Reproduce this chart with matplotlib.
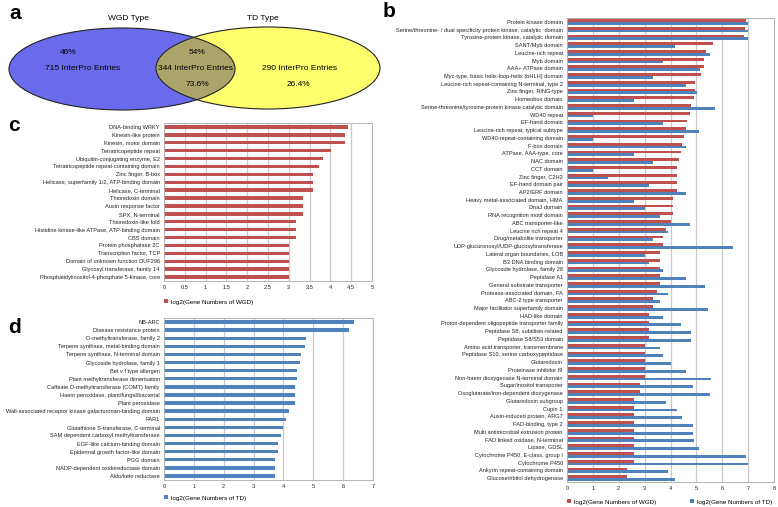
import matplotlib
matplotlib.use("Agg")
import matplotlib.pyplot as plt
from matplotlib.patches import Ellipse
import numpy as np

plt.rcParams['font.family'] = ['Liberation Sans', 'DejaVu Sans']

W, H = 778, 507
RED = '#c0504d'
BLUE = '#4f81bd'
GRID = '#c8c8c8'

# panel a: venn
venn_titles = ['WGD Type', 'TD Type']
venn_counts = [715, 344, 290]
venn_pct_top = ['46%', '54%', '']
venn_pct_bottom = ['', '73.6%', '26.4%']

# panel b: shared domains, log2 gene numbers
b_names = [
    'Protein kinase domain',
    'Serine/threonine- / dual specificity protein kinase, catalytic  domain',
    'Tyrosine-protein kinase, catalytic domain',
    'SANT/Myb domain',
    'Leucine-rich repeat',
    'Myb domain',
    'AAA+ ATPase domain',
    'Myc-type, basic helix-loop-helix (bHLH) domain',
    'Leucine-rich repeat-containing N-terminal, type 2',
    'Zinc finger, RING-type',
    'Homeobox domain',
    'Serine-threonine/tyrosine-protein kinase catalytic domain',
    'WD40 repeat',
    'EF-hand domain',
    'Leucine-rich repeat, typical subtype',
    'WD40-repeat-containing domain',
    'F-box domain',
    'ATPase, AAA-type, core',
    'NAC domain',
    'CCT domain',
    'Zinc finger, C2H2',
    'EF-hand domain pair',
    'AP2/ERF domain',
    'Heavy metal-associated domain, HMA',
    'DnaJ domain',
    'RNA recognition motif domain',
    'ABC transporter-like',
    'Leucine rich repeat 4',
    'Drug/metabolite transporter',
    'UDP-glucuronosyl/UDP-glucosyltransferase',
    'Lateral organ boundaries, LOB',
    'B3 DNA binding domain',
    'Glycoside hydrolase, family 28',
    'Peptidase A1',
    'General substrate transporter',
    'Protease-associated domain, PA',
    'ABC-2 type transporter',
    'Major facilitator superfamily domain',
    'HAD-like domain',
    'Proton-dependent oligopeptide transporter family',
    'Peptidase S8, subtilisin-related',
    'Peptidase S8/S53 domain',
    'Amino acid transporter, transmembrane',
    'Peptidase S10, serine carboxypeptidase',
    'Glutaredoxin',
    'Proteinase inhibitor I9',
    'Non-haem dioxygenase N-terminal domain',
    'Sugar/inositol transporter',
    'Oxoglutarate/iron-dependent dioxygenase',
    'Glutaredoxin subgroup',
    'Cupin 1',
    'Auxin-induced protein, ARG7',
    'FAD-binding, type 2',
    'Multi antimicrobial extrusion protein',
    'FAD linked oxidase, N-terminal',
    'Lipase, GDSL',
    'Cytochrome P450, E-class, group I',
    'Cytochrome P450',
    'Ankyrin repeat-containing domain',
    'Glucose/ribitol dehydrogenase',
]
b_wgd = [6.90, 6.88, 6.83, 5.64, 5.36, 5.29, 5.29, 5.17, 4.95, 4.95,
         4.91, 4.81, 4.75, 4.64, 4.58, 4.52, 4.46, 4.39, 4.32, 4.25,
         4.25, 4.25, 4.25, 4.09, 4.09, 4.09, 4.00, 3.81, 3.70, 3.70,
         3.58, 3.58, 3.58, 3.58, 3.58, 3.46, 3.32, 3.32, 3.17, 3.17,
         3.17, 3.17, 3.00, 3.00, 3.00, 3.00, 3.00, 2.81, 2.81, 2.58,
         2.58, 2.58, 2.58, 2.58, 2.58, 2.58, 2.58, 2.58, 2.32, 2.32]
b_td = [7.00, 7.00, 7.00, 4.17, 5.51, 3.70, 5.13, 3.32, 4.58, 5.04,
        2.58, 5.72, 1.00, 3.70, 5.09, 1.00, 4.58, 2.58, 3.32, 1.00,
        1.58, 3.17, 4.58, 2.58, 3.00, 3.58, 4.75, 3.91, 3.32, 6.41,
        3.00, 3.17, 3.70, 4.58, 5.32, 3.91, 3.58, 5.43, 3.70, 4.39,
        4.81, 4.81, 3.58, 3.70, 4.00, 4.58, 5.55, 4.86, 5.52, 3.81,
        4.25, 4.46, 4.86, 4.86, 4.91, 5.09, 6.92, 7.00, 3.91, 4.17]

# panel c: WGD-only domains
c_names = [
    'DNA-binding WRKY',
    'Kinesin-like protein',
    'Kinesin, motor domain',
    'Tetratricopeptide repeat',
    'Ubiquitin-conjugating enzyme, E2',
    'Tetratricopeptide repeat-containing domain',
    'Zinc finger, B-box',
    'Helicase, superfamily 1/2, ATP-binding domain',
    'Helicase, C-terminal',
    'Thioredoxin domain',
    'Auxin response factor',
    'SPX, N-terminal',
    'Thioredoxin-like fold',
    'Histidine kinase-like ATPase, ATP-binding domain',
    'CBS domain',
    'Protein phosphatase 2C',
    'Transcription factor, TCP',
    'Domain of unknown function DUF296',
    'Glycosyl transferase, family 14',
    'Phosphatidylinositol-4-phosphate 5-kinase, core',
]
c_wgd = [4.43, 4.36, 4.36, 4.02, 3.82, 3.72, 3.59, 3.59, 3.59, 3.34,
         3.34, 3.34, 3.18, 3.18, 3.18, 3.01, 3.01, 3.01, 3.01, 3.01]

# panel d: TD-only domains
d_names = [
    'NB-ARC',
    'Disease resistance protein',
    'O-methyltransferase, family 2',
    'Terpene synthase, metal-binding domain',
    'Terpene synthase, N-terminal domain',
    'Glycoside hydrolase, family 1',
    'Bet v I type allergen',
    'Plant methyltransferase dimerisation',
    'Caffeate O-methyltransferase (COMT) family',
    'Haem peroxidase, plant/fungal/bacterial',
    'Plant peroxidase',
    'Wall-associated receptor kinase galacturonan-binding domain',
    'PAR1',
    'Glutathione S-transferase, C-terminal',
    'SAM dependent carboxyl methyltransferase',
    'EGF-like calcium-binding domain',
    'Epidermal growth factor-like domain',
    'PGG domain',
    'NADP-dependent oxidoreductase domain',
    'Aldo/keto reductase',
]
d_td = [6.38, 6.19, 4.76, 4.71, 4.60, 4.54, 4.47, 4.47, 4.40, 4.40,
        4.40, 4.18, 4.10, 4.00, 3.92, 3.81, 3.81, 3.71, 3.71, 3.71]


def px_axes(fig, left, top, right, bottom):
    return fig.add_axes([left / W, 1 - bottom / H, (right - left) / W, (bottom - top) / H])


def style_bar_axes(ax, n, xmax, step):
    ax.set_xlim(0, xmax)
    ax.set_ylim(n - 0.5, -0.5)
    ticks = np.arange(0, xmax + step / 2, step)
    ax.set_xticks(ticks)
    ax.set_xticklabels(['%g' % t for t in ticks])
    ax.xaxis.grid(True, color=GRID, linewidth=0.9)
    ax.set_axisbelow(True)
    for s in ax.spines.values():
        s.set_color('#b4b4b4')
        s.set_linewidth(0.7)
    ax.tick_params(axis='both', length=0, labelsize=4.1, colors='#222222', pad=3)


fig = plt.figure(figsize=(W / 100, H / 100), dpi=100)

# ---- a ----
ax_a = px_axes(fig, 0, 0, 385, 115)
ax_a.set_xlim(0, 385)
ax_a.set_ylim(115, 0)
ax_a.axis('off')
left_e = Ellipse((122, 69), 226, 82, facecolor='#6a6aec', edgecolor='none')
right_e = Ellipse((268, 68), 224, 82, facecolor='#ffff6e', edgecolor='none')
ax_a.add_patch(left_e)
ax_a.add_patch(right_e)
mid = Ellipse((122, 69), 226, 82, facecolor='#aba56c', edgecolor='none')
ax_a.add_patch(mid)
mid.set_clip_path(right_e)
for e in [Ellipse((122, 69), 226, 82), Ellipse((268, 68), 224, 82)]:
    e.set_facecolor('none')
    e.set_edgecolor('#222222')
    e.set_linewidth(0.8)
    ax_a.add_patch(e)
ax_a.text(128, 18, venn_titles[0], ha='center', va='center', fontsize=6)
ax_a.text(263, 18, venn_titles[1], ha='center', va='center', fontsize=6)
xs = [83, 195, 300]
for i in range(3):
    ax_a.text(xs[i], 69, '%d InterPro Entries' % venn_counts[i], ha='center', va='center', fontsize=6)
ax_a.text(68, 53, venn_pct_top[0], ha='center', va='center', fontsize=6)
ax_a.text(197, 53, venn_pct_top[1], ha='center', va='center', fontsize=6)
ax_a.text(197, 84, venn_pct_bottom[1], ha='center', va='center', fontsize=6)
ax_a.text(298, 84, venn_pct_bottom[2], ha='center', va='center', fontsize=6)

# ---- b ----
ax_b = px_axes(fig, 567, 18, 774, 482)
yb = np.arange(len(b_names))
hb = 0.36
ax_b.barh(yb - hb / 2, b_wgd, height=hb, color=RED, label='log2(Gene Numbers of WGD)')
ax_b.barh(yb + hb / 2, b_td, height=hb, color=BLUE, label='log2(Gene Numbers of TD)')
ax_b.set_yticks(yb)
ax_b.set_yticklabels(b_names)
style_bar_axes(ax_b, len(b_names), 8, 1)
ax_b.legend(loc='center left', bbox_to_anchor=(-0.01, -0.043), ncol=2, frameon=False,
            fontsize=4.5, handlelength=0.6, handleheight=0.6, handletextpad=0.4,
            columnspacing=5.5, borderaxespad=0)

# ---- c ----
ax_c = px_axes(fig, 164, 123, 372, 281)
yc = np.arange(len(c_names))
ax_c.barh(yc, c_wgd, height=0.42, color=RED, label='log2(Gene Numbers of WGD)')
ax_c.set_yticks(yc)
ax_c.set_yticklabels(c_names)
style_bar_axes(ax_c, len(c_names), 5, 0.5)
ax_c.legend(loc='center left', bbox_to_anchor=(-0.01, -0.133), frameon=False,
            fontsize=4.5, handlelength=0.6, handleheight=0.6, handletextpad=0.4, borderaxespad=0)

# ---- d ----
ax_d = px_axes(fig, 164, 318, 373, 480)
yd = np.arange(len(d_names))
ax_d.barh(yd, d_td, height=0.42, color=BLUE, label='log2(Gene Numbers of TD)')
ax_d.set_yticks(yd)
ax_d.set_yticklabels(d_names)
style_bar_axes(ax_d, len(d_names), 7, 1)
ax_d.legend(loc='center left', bbox_to_anchor=(-0.01, -0.111), frameon=False,
            fontsize=4.5, handlelength=0.6, handleheight=0.6, handletextpad=0.4, borderaxespad=0)

# panel letters
for letter, x, y in [('a', 9, 19), ('b', 383, 17), ('c', 8, 131), ('d', 8, 333)]:
    fig.text(x / W, 1 - y / H, letter, fontsize=15, fontweight='bold', va='baseline', ha='left')

fig.savefig('out.png', dpi=100)
